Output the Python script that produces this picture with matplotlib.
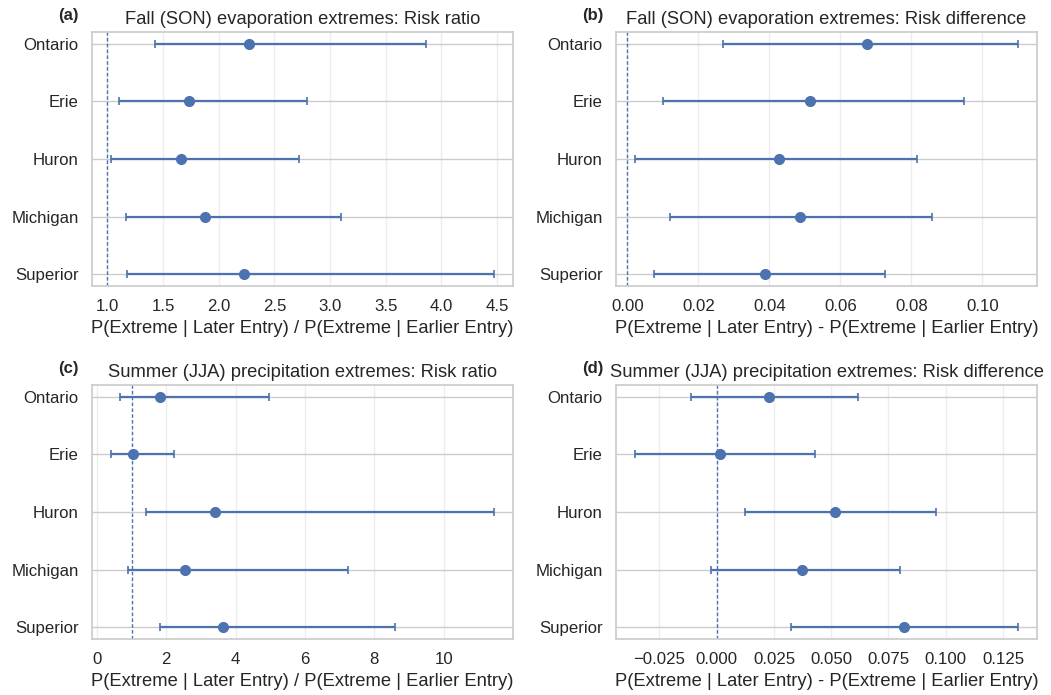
import numpy as np
import matplotlib
matplotlib.use("Agg")
import matplotlib.pyplot as plt
import seaborn as sns

sns.set_theme(style="whitegrid", context="notebook", font_scale=1.1)
plt.rcParams['font.family'] = ['Liberation Sans', 'DejaVu Sans']

lakes = ["Ontario", "Erie", "Huron", "Michigan", "Superior"]

# (a) fall evaporation, risk ratio
son_rr = [2.27, 1.73, 1.66, 1.88, 2.23]
son_rr_lo = [1.43, 1.105, 1.033, 1.17, 1.18]
son_rr_hi = [3.86, 2.79, 2.72, 3.10, 4.47]

# (b) fall evaporation, risk difference
son_rd = [0.0675, 0.0514, 0.0426, 0.0485, 0.0388]
son_rd_lo = [0.0270, 0.0099, 0.0022, 0.0119, 0.0074]
son_rd_hi = [0.1100, 0.0947, 0.0816, 0.0857, 0.0727]

# (c) summer precipitation, risk ratio
jja_rr = [1.82, 1.03, 3.40, 2.54, 3.63]
jja_rr_lo = [0.67, 0.41, 1.41, 0.90, 1.82]
jja_rr_hi = [4.97, 2.21, 11.44, 7.23, 8.59]

# (d) summer precipitation, risk difference
jja_rd = [0.0229, 0.0016, 0.0517, 0.0373, 0.0816]
jja_rd_lo = [-0.0112, -0.0356, 0.0122, -0.0023, 0.0324]
jja_rd_hi = [0.0618, 0.0430, 0.0958, 0.0800, 0.1315]

panels = [
    ("(a)", "Fall (SON) evaporation extremes: Risk ratio", son_rr, son_rr_lo, son_rr_hi, 1.0,
     "P(Extreme | Later Entry) / P(Extreme | Earlier Entry)"),
    ("(b)", "Fall (SON) evaporation extremes: Risk difference", son_rd, son_rd_lo, son_rd_hi, 0.0,
     "P(Extreme | Later Entry) - P(Extreme | Earlier Entry)"),
    ("(c)", "Summer (JJA) precipitation extremes: Risk ratio", jja_rr, jja_rr_lo, jja_rr_hi, 1.0,
     "P(Extreme | Later Entry) / P(Extreme | Earlier Entry)"),
    ("(d)", "Summer (JJA) precipitation extremes: Risk difference", jja_rd, jja_rd_lo, jja_rd_hi, 0.0,
     "P(Extreme | Later Entry) - P(Extreme | Earlier Entry)"),
]

blue = "#4C72B0"

fig, axes = plt.subplots(2, 2, figsize=(10.51, 6.95), dpi=100)
fig.subplots_adjust(left=0.0875, right=0.9867, top=0.954, bottom=0.0806, wspace=0.245, hspace=0.39)

for ax, (tag, title, est, lo, hi, ref, xlabel) in zip(axes.flat, panels):
    est = np.array(est)
    err = [est - np.array(lo), np.array(hi) - est]
    y = np.arange(len(lakes))
    ax.errorbar(est, y, xerr=err, fmt='o', color=blue, ecolor=blue, elinewidth=1.6,
                capsize=2.7, capthick=1.2, markersize=7)
    ax.axvline(ref, color=blue, linestyle=(0, (2.6, 1.6)), linewidth=1.0)
    ax.set_yticks(y)
    ax.set_yticklabels(lakes)
    ax.invert_yaxis()
    ax.grid(axis='x', alpha=0.35)
    ax.set_title(title)
    ax.set_xlabel(xlabel)
    ax.text(-0.08, 1.035, tag, transform=ax.transAxes, fontsize=12, fontweight='bold',
            va='bottom', ha='left')

fig.savefig("out.png", dpi=100)
